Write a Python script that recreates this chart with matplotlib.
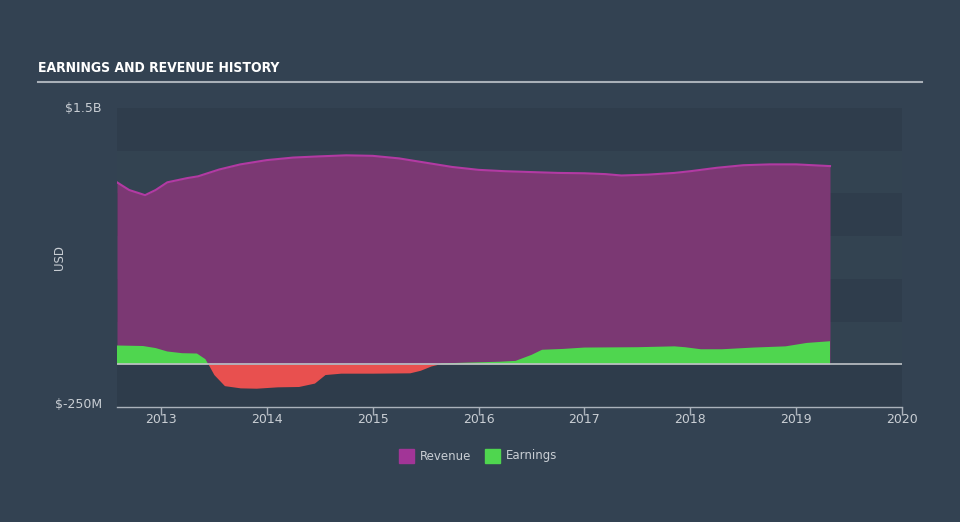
import matplotlib
matplotlib.use('Agg')
import matplotlib.pyplot as plt
from matplotlib.patches import Rectangle
import numpy as np

# ---- data (billions USD, fractional years) ----
rev_years = [2012.585, 2012.70, 2012.85, 2012.95, 2013.06, 2013.25, 2013.35, 2013.55,
             2013.75, 2014.0, 2014.25, 2014.5, 2014.75, 2015.0, 2015.25, 2015.5,
             2015.75, 2016.0, 2016.25, 2016.5, 2016.75, 2017.0, 2017.2, 2017.35,
             2017.6, 2017.85, 2018.0, 2018.25, 2018.5, 2018.75, 2019.0, 2019.32]
revenue = [1.065, 1.02, 0.99, 1.02, 1.065, 1.09, 1.10, 1.14,
           1.17, 1.195, 1.21, 1.217, 1.223, 1.22, 1.205, 1.18,
           1.155, 1.138, 1.13, 1.125, 1.12, 1.118, 1.113, 1.105,
           1.11, 1.12, 1.13, 1.15, 1.165, 1.17, 1.17, 1.16]

earn_years = [2012.585, 2012.83, 2012.95, 2013.06, 2013.2, 2013.34, 2013.42, 2013.5,
              2013.6, 2013.75, 2013.9, 2014.1, 2014.3, 2014.45, 2014.55, 2014.7,
              2015.0, 2015.35, 2015.45, 2015.55, 2015.65, 2015.9, 2016.2, 2016.35,
              2016.5, 2016.6, 2016.8, 2017.0, 2017.5, 2017.85, 2017.95, 2018.1,
              2018.3, 2018.6, 2018.9, 2019.1, 2019.32]
earnings = [0.11, 0.107, 0.095, 0.075, 0.065, 0.063, 0.03, -0.06,
            -0.125, -0.138, -0.14, -0.132, -0.13, -0.11, -0.06, -0.052,
            -0.052, -0.05, -0.035, -0.01, 0.005, 0.01, 0.015, 0.02,
            0.055, 0.085, 0.09, 0.098, 0.1, 0.105, 0.1, 0.088,
            0.088, 0.098, 0.105, 0.125, 0.135]

year_ticks = [2013, 2014, 2015, 2016, 2017, 2018, 2019, 2020]

BG = '#334252'
TXT = '#c9ced4'

fig = plt.figure(figsize=(9.6, 5.22), dpi=100)
fig.patch.set_facecolor(BG)

ax = fig.add_axes([117/960, 115/522, 785/960, 299/522])
ax.set_facecolor('#2e3c4b')
ax.set_xlim(2012.585, 2020)
ax.set_ylim(-0.25, 1.5)

# horizontal bands
for i, lo in enumerate(np.arange(0, 1.5, 0.25)):
    col = '#334351' if i % 2 == 0 else '#2f3d4c'
    ax.axhspan(lo, lo + 0.25, color=col, lw=0, zorder=0)

rx = np.array(rev_years)
ry = np.array(revenue)
ax.fill_between(rx, 0, ry, color='#7b3873', lw=0, zorder=2)
ax.plot(rx, ry, color='#b23aa3', lw=1.5, zorder=3)

ex = np.array(earn_years)
ey = np.array(earnings)
ax.fill_between(ex, 0, ey, where=ey >= 0, interpolate=True, color='#4fd64f', lw=0, zorder=4)
ax.fill_between(ex, 0, ey, where=ey <= 0, interpolate=True, color='#e8504f', lw=0, zorder=4)

ax.axhline(0, color='#bfc3c7', lw=1.2, zorder=5)

for s in ['top', 'right', 'left']:
    ax.spines[s].set_visible(False)
ax.spines['bottom'].set_color('#aab2bb')
ax.spines['bottom'].set_linewidth(1)

ax.set_xticks(year_ticks)
ax.set_xticklabels([str(y) for y in year_ticks])
ax.tick_params(axis='x', colors='#aab2bb', labelcolor=TXT, labelsize=9, length=6, width=1, pad=-2)
ax.set_yticks([])

# y labels as text
fig.text(102/960, 1 - 108/522, '$1.5B', color=TXT, fontsize=9, ha='right', va='center')
fig.text(102/960, 1 - 404/522, '$-250M', color=TXT, fontsize=9, ha='right', va='center')
fig.text(60/960, 1 - 258/522, 'USD', color=TXT, fontsize=8.5, rotation=90, ha='center', va='center')

# title and rule
fig.text(38/960, 1 - 68/522, 'EARNINGS AND REVENUE HISTORY', color='white', fontsize=10,
         fontweight='bold', family='DejaVu Sans', fontstretch='condensed', ha='left', va='center')
fig.add_artist(plt.Line2D([38/960, 922/960], [1 - 82/522, 1 - 82/522], color='#a9b0b8', lw=1.5))

# legend
fig.add_artist(Rectangle((399/960, 1 - 463/522), 15/960, 14/522, color='#a23597', transform=fig.transFigure))
fig.text(420/960, 1 - 456/522, 'Revenue', color=TXT, fontsize=8.5, ha='left', va='center')
fig.add_artist(Rectangle((485/960, 1 - 463/522), 15/960, 14/522, color='#4fd64f', transform=fig.transFigure))
fig.text(506/960, 1 - 456/522, 'Earnings', color=TXT, fontsize=8.5, ha='left', va='center')

fig.savefig('out.png', dpi=100, facecolor=BG)
